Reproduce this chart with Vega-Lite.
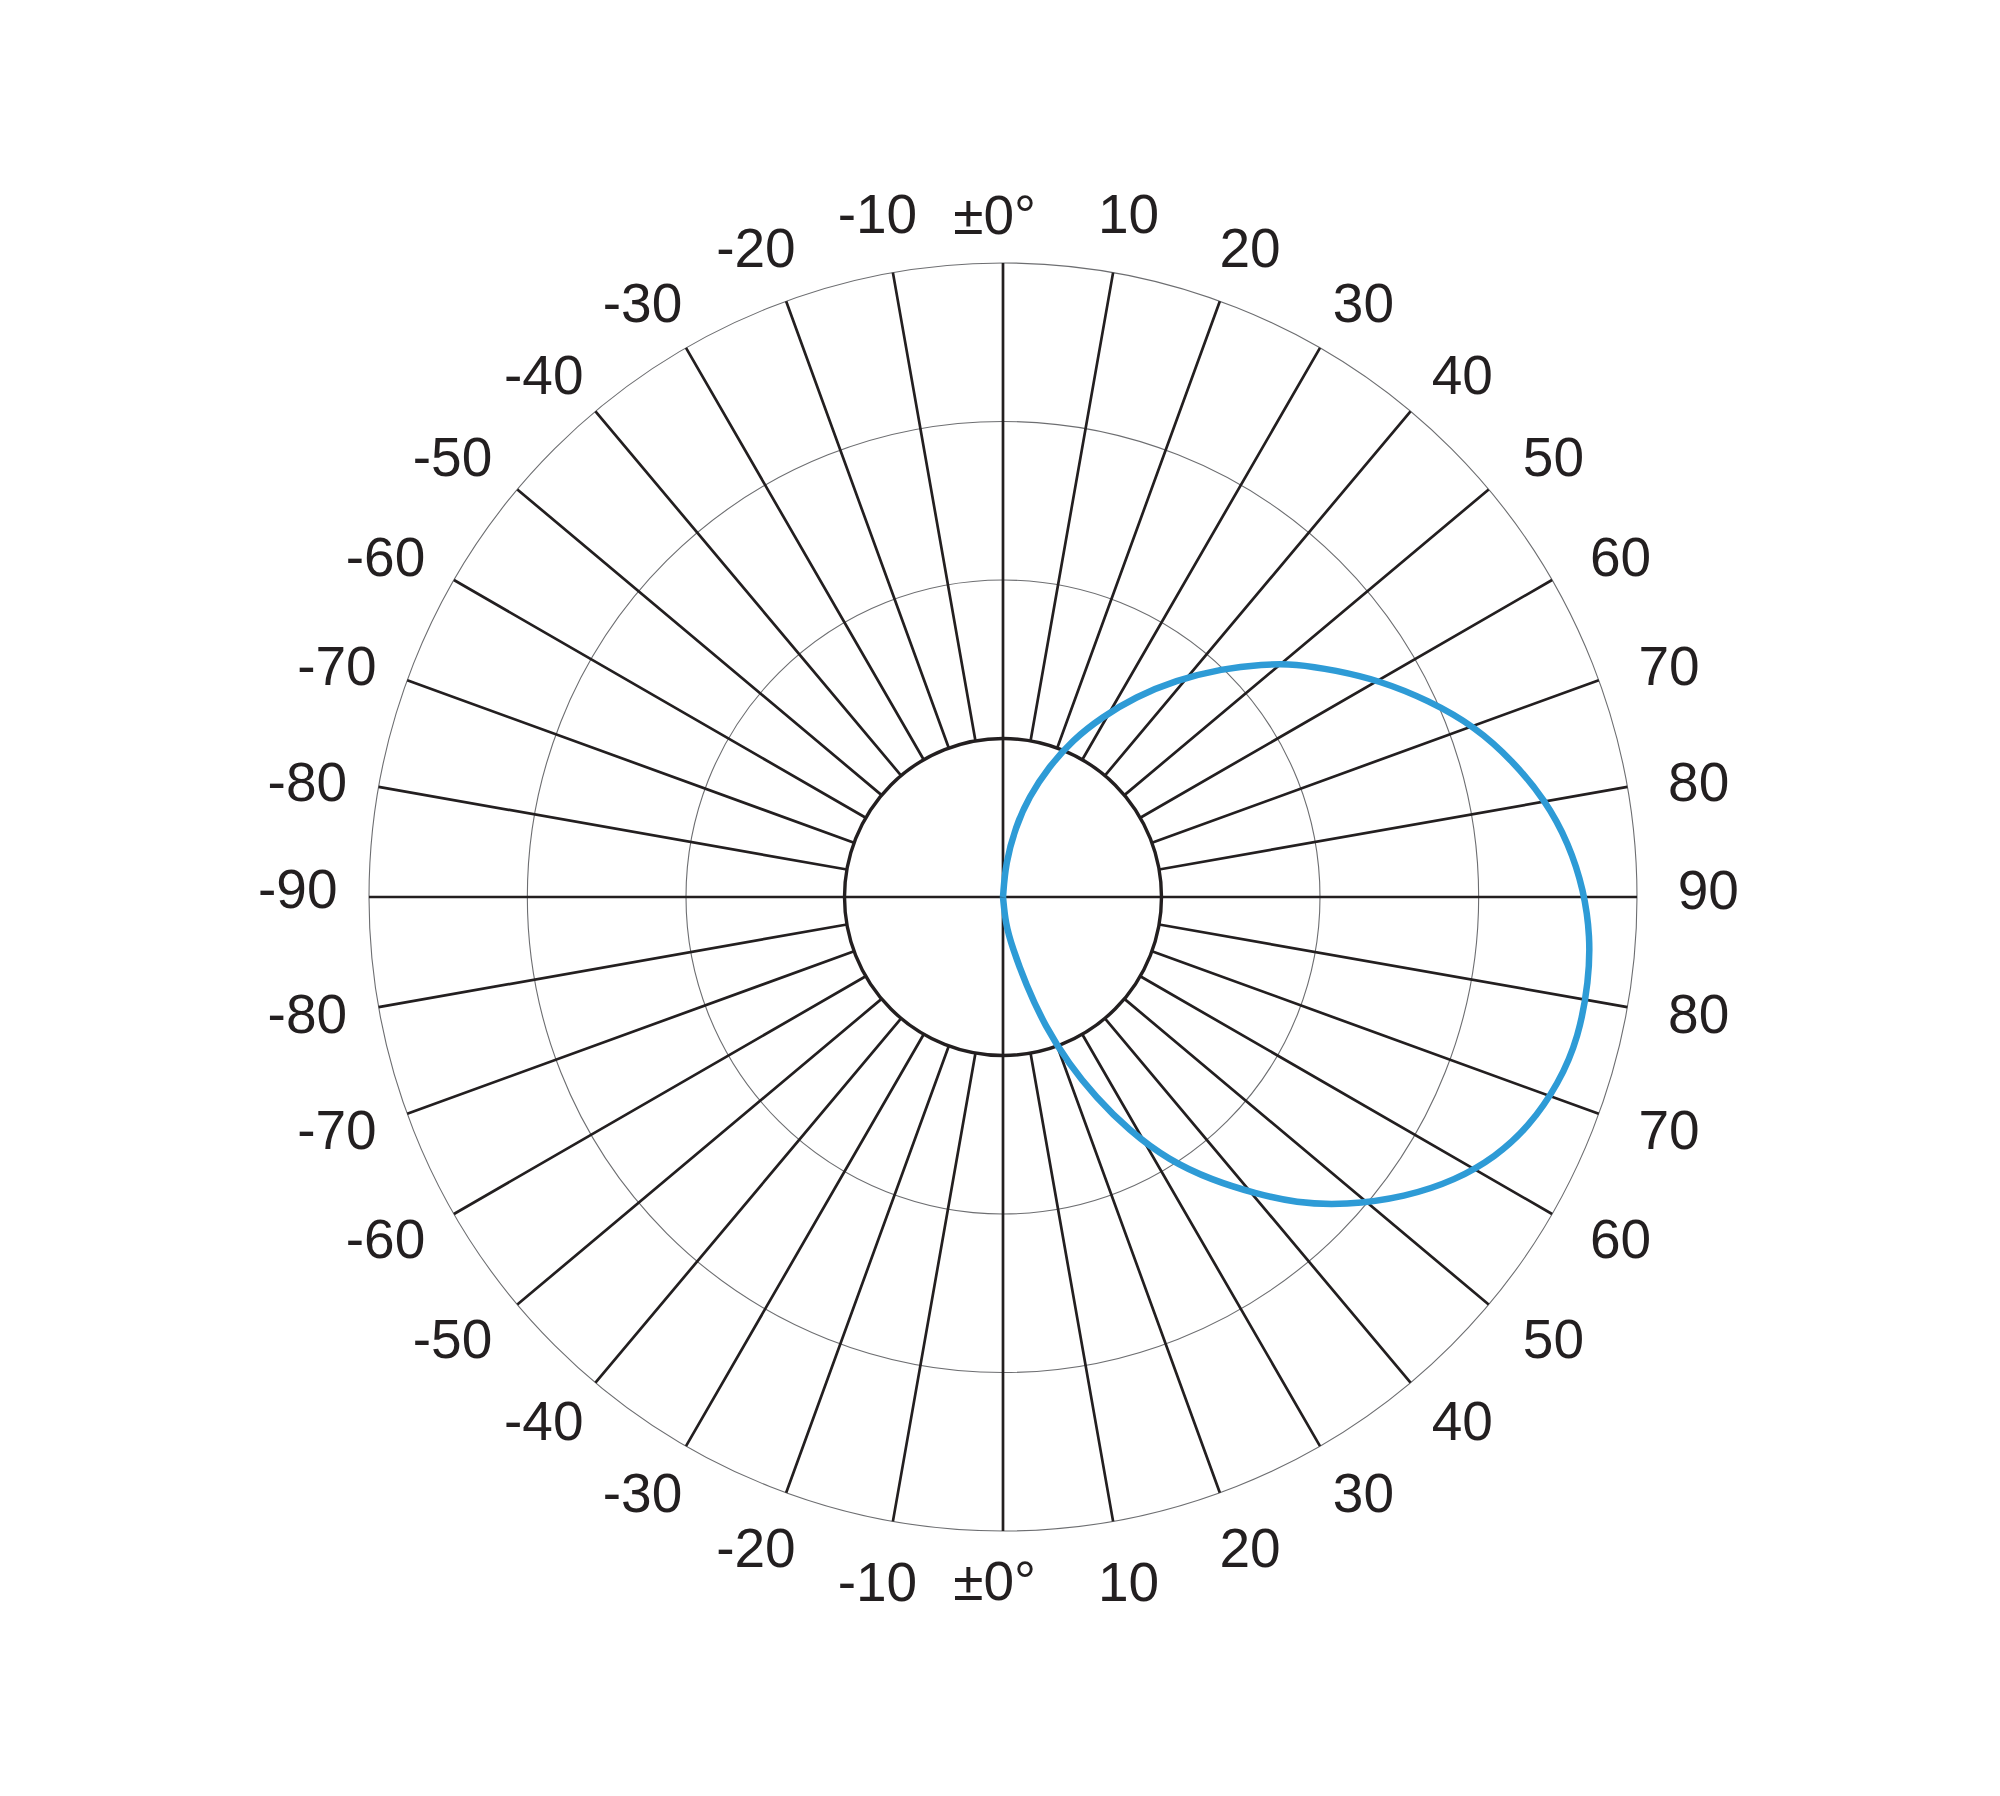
{
  "$schema": "https://vega.github.io/schema/vega-lite/v6.json",
  "width": 1268,
  "height": 1268,
  "autosize": "none",
  "padding": {"left": 369, "top": 263, "right": 363, "bottom": 265},
  "background": "#ffffff",
  "config": {"view": {"stroke": null}},
  "resolve": {"scale": {"theta": "independent"}},
  "datasets": {
    "rings": [{"ring": 2}, {"ring": 3}, {"ring": 4}],
    "inner": [{"ring": 1}],
    "spokes": [
      {"angle": 10}, {"angle": 20}, {"angle": 30}, {"angle": 40}, {"angle": 50}, {"angle": 60}, {"angle": 70}, {"angle": 80},
      {"angle": 100}, {"angle": 110}, {"angle": 120}, {"angle": 130}, {"angle": 140}, {"angle": 150}, {"angle": 160}, {"angle": 170},
      {"angle": 190}, {"angle": 200}, {"angle": 210}, {"angle": 220}, {"angle": 230}, {"angle": 240}, {"angle": 250}, {"angle": 260},
      {"angle": 280}, {"angle": 290}, {"angle": 300}, {"angle": 310}, {"angle": 320}, {"angle": 330}, {"angle": 340}, {"angle": 350}
    ],
    "labels": [
      {"angle": 0, "label": "±0°"}, {"angle": 10, "label": "10"}, {"angle": 20, "label": "20"}, {"angle": 30, "label": "30"},
      {"angle": 40, "label": "40"}, {"angle": 50, "label": "50"}, {"angle": 60, "label": "60"}, {"angle": 70, "label": "70"},
      {"angle": 80, "label": "80"}, {"angle": 90, "label": "90"}, {"angle": 100, "label": "80"}, {"angle": 110, "label": "70"},
      {"angle": 120, "label": "60"}, {"angle": 130, "label": "50"}, {"angle": 140, "label": "40"}, {"angle": 150, "label": "30"},
      {"angle": 160, "label": "20"}, {"angle": 170, "label": "10"}, {"angle": 180, "label": "±0°"}, {"angle": 190, "label": "-10"},
      {"angle": 200, "label": "-20"}, {"angle": 210, "label": "-30"}, {"angle": 220, "label": "-40"}, {"angle": 230, "label": "-50"},
      {"angle": 240, "label": "-60"}, {"angle": 250, "label": "-70"}, {"angle": 260, "label": "-80"}, {"angle": 270, "label": "-90"},
      {"angle": 280, "label": "-80"}, {"angle": 290, "label": "-70"}, {"angle": 300, "label": "-60"}, {"angle": 310, "label": "-50"},
      {"angle": 320, "label": "-40"}, {"angle": 330, "label": "-30"}, {"angle": 340, "label": "-20"}, {"angle": 350, "label": "-10"}
    ],
    "curve": [
      {"x": 0, "y": 0}, {"x": 0.016, "y": 0.211}, {"x": 0.079, "y": 0.442}, {"x": 0.163, "y": 0.631},
      {"x": 0.289, "y": 0.82}, {"x": 0.437, "y": 0.989}, {"x": 0.626, "y": 1.136}, {"x": 0.836, "y": 1.262},
      {"x": 1.088, "y": 1.367}, {"x": 1.383, "y": 1.441}, {"x": 1.635, "y": 1.468}, {"x": 1.845, "y": 1.472},
      {"x": 2.098, "y": 1.43}, {"x": 2.371, "y": 1.367}, {"x": 2.686, "y": 1.241}, {"x": 2.981, "y": 1.073},
      {"x": 3.213, "y": 0.862}, {"x": 3.423, "y": 0.61}, {"x": 3.57, "y": 0.337}, {"x": 3.665, "y": 0.042},
      {"x": 3.705, "y": -0.25}, {"x": 3.696, "y": -0.526}, {"x": 3.633, "y": -0.883}, {"x": 3.507, "y": -1.177},
      {"x": 3.317, "y": -1.451}, {"x": 3.107, "y": -1.64}, {"x": 2.855, "y": -1.787}, {"x": 2.539, "y": -1.893},
      {"x": 2.161, "y": -1.945}, {"x": 1.845, "y": -1.93}, {"x": 1.593, "y": -1.871}, {"x": 1.32, "y": -1.787},
      {"x": 1.046, "y": -1.661}, {"x": 0.794, "y": -1.472}, {"x": 0.584, "y": -1.262}, {"x": 0.415, "y": -1.051},
      {"x": 0.268, "y": -0.82}, {"x": 0.142, "y": -0.546}, {"x": 0.058, "y": -0.315}, {"x": 0.016, "y": -0.168},
      {"x": 0, "y": 0}
    ],
    "cross": [{"c": 0}]
  },
  "layer": [
    {
      "data": {"name": "rings"},
      "mark": {"type": "arc", "theta": 0, "theta2": 6.2832, "filled": false, "stroke": "#6d6e71", "strokeWidth": 1.1},
      "encoding": {
        "radius": {"field": "ring", "type": "quantitative", "stack": null, "scale": {"type": "linear", "domain": [0, 4], "zero": true}}
      }
    },
    {
      "data": {"name": "spokes"},
      "mark": {"type": "arc", "filled": false, "stroke": "#231f20", "strokeWidth": 2.7},
      "encoding": {
        "theta": {"field": "angle", "type": "quantitative", "stack": null, "scale": {"domain": [0, 360], "range": [0, 6.283185307]}},
        "theta2": {"field": "angle"},
        "radius": {"datum": 4, "type": "quantitative", "stack": null, "scale": {"type": "linear", "domain": [0, 4], "zero": true}},
        "radius2": {"datum": 1}
      }
    },
    {
      "data": {"name": "cross"},
      "mark": {"type": "rule", "stroke": "#231f20", "strokeWidth": 2.7},
      "encoding": {
        "x": {"datum": -4, "type": "quantitative", "scale": {"domain": [-4, 4], "nice": false, "zero": false}, "axis": null},
        "x2": {"datum": 4},
        "y": {"datum": 0, "type": "quantitative", "scale": {"domain": [-4, 4], "nice": false, "zero": false}, "axis": null}
      }
    },
    {
      "data": {"name": "cross"},
      "mark": {"type": "rule", "stroke": "#231f20", "strokeWidth": 2.7},
      "encoding": {
        "x": {"datum": 0, "type": "quantitative", "scale": {"domain": [-4, 4], "nice": false, "zero": false}, "axis": null},
        "y": {"datum": -4, "type": "quantitative", "scale": {"domain": [-4, 4], "nice": false, "zero": false}, "axis": null},
        "y2": {"datum": 4}
      }
    },
    {
      "data": {"name": "inner"},
      "mark": {"type": "arc", "theta": 0, "theta2": 6.2832, "filled": false, "stroke": "#231f20", "strokeWidth": 3.4},
      "encoding": {
        "radius": {"field": "ring", "type": "quantitative", "stack": null, "scale": {"type": "linear", "domain": [0, 4], "zero": true}}
      }
    },
    {
      "data": {"name": "curve"},
      "mark": {"type": "line", "stroke": "#2e9bd6", "strokeWidth": 6.5, "interpolate": "basis"},
      "encoding": {
        "x": {"field": "x", "type": "quantitative", "scale": {"domain": [-4, 4], "nice": false, "zero": false}, "axis": null},
        "y": {"field": "y", "type": "quantitative", "scale": {"domain": [-4, 4], "nice": false, "zero": false}, "axis": null},
        "order": {"value": null}
      }
    },
    {
      "data": {"name": "labels"},
      "transform": [{"filter": "datum.angle % 180 == 0"}],
      "mark": {"type": "text", "font": "Liberation Sans", "fontSize": 55, "fill": "#231f20", "align": "center", "baseline": "middle", "dy": 3},
      "encoding": {
        "theta": {"field": "angle", "type": "quantitative", "stack": null, "scale": {
          "domain": [0, 10, 20, 30, 40, 50, 60, 70, 80, 90, 100, 110, 120, 130, 140, 150, 160, 170, 180, 190, 200, 210, 220, 230, 240, 250, 260, 270, 280, 290, 300, 310, 320, 330, 340, 350, 360],
          "range": [-0.01222, 0.18151, 0.36303, 0.54454, 0.72082, 0.89535, 1.06639, 1.23569, 1.40499, 1.55945, 1.7366, 1.9059, 2.0752, 2.24624, 2.42077, 2.59705, 2.77856, 2.96008, 3.15381, 3.32311, 3.50462, 3.68614, 3.86241, 4.03694, 4.20799, 4.37729, 4.54658, 4.72461, 4.8782, 5.04749, 5.21679, 5.38783, 5.56236, 5.73865, 5.92016, 6.10167, 6.28319],
          "zero": false, "nice": false}},
        "radius": {"datum": 4.31, "type": "quantitative", "stack": null, "scale": {"type": "linear", "domain": [0, 4], "zero": true}},
        "text": {"field": "label"}
      }
    },
    {
      "data": {"name": "labels"},
      "transform": [{"filter": "datum.angle % 180 != 0 && abs(((datum.angle + 90) % 180) - 90) <= 40"}],
      "mark": {"type": "text", "font": "Liberation Sans", "fontSize": 55, "fill": "#231f20", "align": "center", "baseline": "middle", "dy": 3},
      "encoding": {
        "theta": {"field": "angle", "type": "quantitative", "stack": null, "scale": {
          "domain": [0, 10, 20, 30, 40, 50, 60, 70, 80, 90, 100, 110, 120, 130, 140, 150, 160, 170, 180, 190, 200, 210, 220, 230, 240, 250, 260, 270, 280, 290, 300, 310, 320, 330, 340, 350, 360],
          "range": [-0.01222, 0.18151, 0.36303, 0.54454, 0.72082, 0.89535, 1.06639, 1.23569, 1.40499, 1.55945, 1.7366, 1.9059, 2.0752, 2.24624, 2.42077, 2.59705, 2.77856, 2.96008, 3.15381, 3.32311, 3.50462, 3.68614, 3.86241, 4.03694, 4.20799, 4.37729, 4.54658, 4.72461, 4.8782, 5.04749, 5.21679, 5.38783, 5.56236, 5.73865, 5.92016, 6.10167, 6.28319],
          "zero": false, "nice": false}},
        "radius": {"datum": 4.39, "type": "quantitative", "stack": null, "scale": {"type": "linear", "domain": [0, 4], "zero": true}},
        "text": {"field": "label"}
      }
    },
    {
      "data": {"name": "labels"},
      "transform": [{"filter": "abs(((datum.angle + 90) % 180) - 90) > 40"}],
      "mark": {"type": "text", "font": "Liberation Sans", "fontSize": 55, "fill": "#231f20", "align": "center", "baseline": "middle", "dy": 3},
      "encoding": {
        "theta": {"field": "angle", "type": "quantitative", "stack": null, "scale": {
          "domain": [0, 10, 20, 30, 40, 50, 60, 70, 80, 90, 100, 110, 120, 130, 140, 150, 160, 170, 180, 190, 200, 210, 220, 230, 240, 250, 260, 270, 280, 290, 300, 310, 320, 330, 340, 350, 360],
          "range": [-0.01222, 0.18151, 0.36303, 0.54454, 0.72082, 0.89535, 1.06639, 1.23569, 1.40499, 1.55945, 1.7366, 1.9059, 2.0752, 2.24624, 2.42077, 2.59705, 2.77856, 2.96008, 3.15381, 3.32311, 3.50462, 3.68614, 3.86241, 4.03694, 4.20799, 4.37729, 4.54658, 4.72461, 4.8782, 5.04749, 5.21679, 5.38783, 5.56236, 5.73865, 5.92016, 6.10167, 6.28319],
          "zero": false, "nice": false}},
        "radius": {"datum": 4.45, "type": "quantitative", "stack": null, "scale": {"type": "linear", "domain": [0, 4], "zero": true}},
        "text": {"field": "label"}
      }
    }
  ]
}
